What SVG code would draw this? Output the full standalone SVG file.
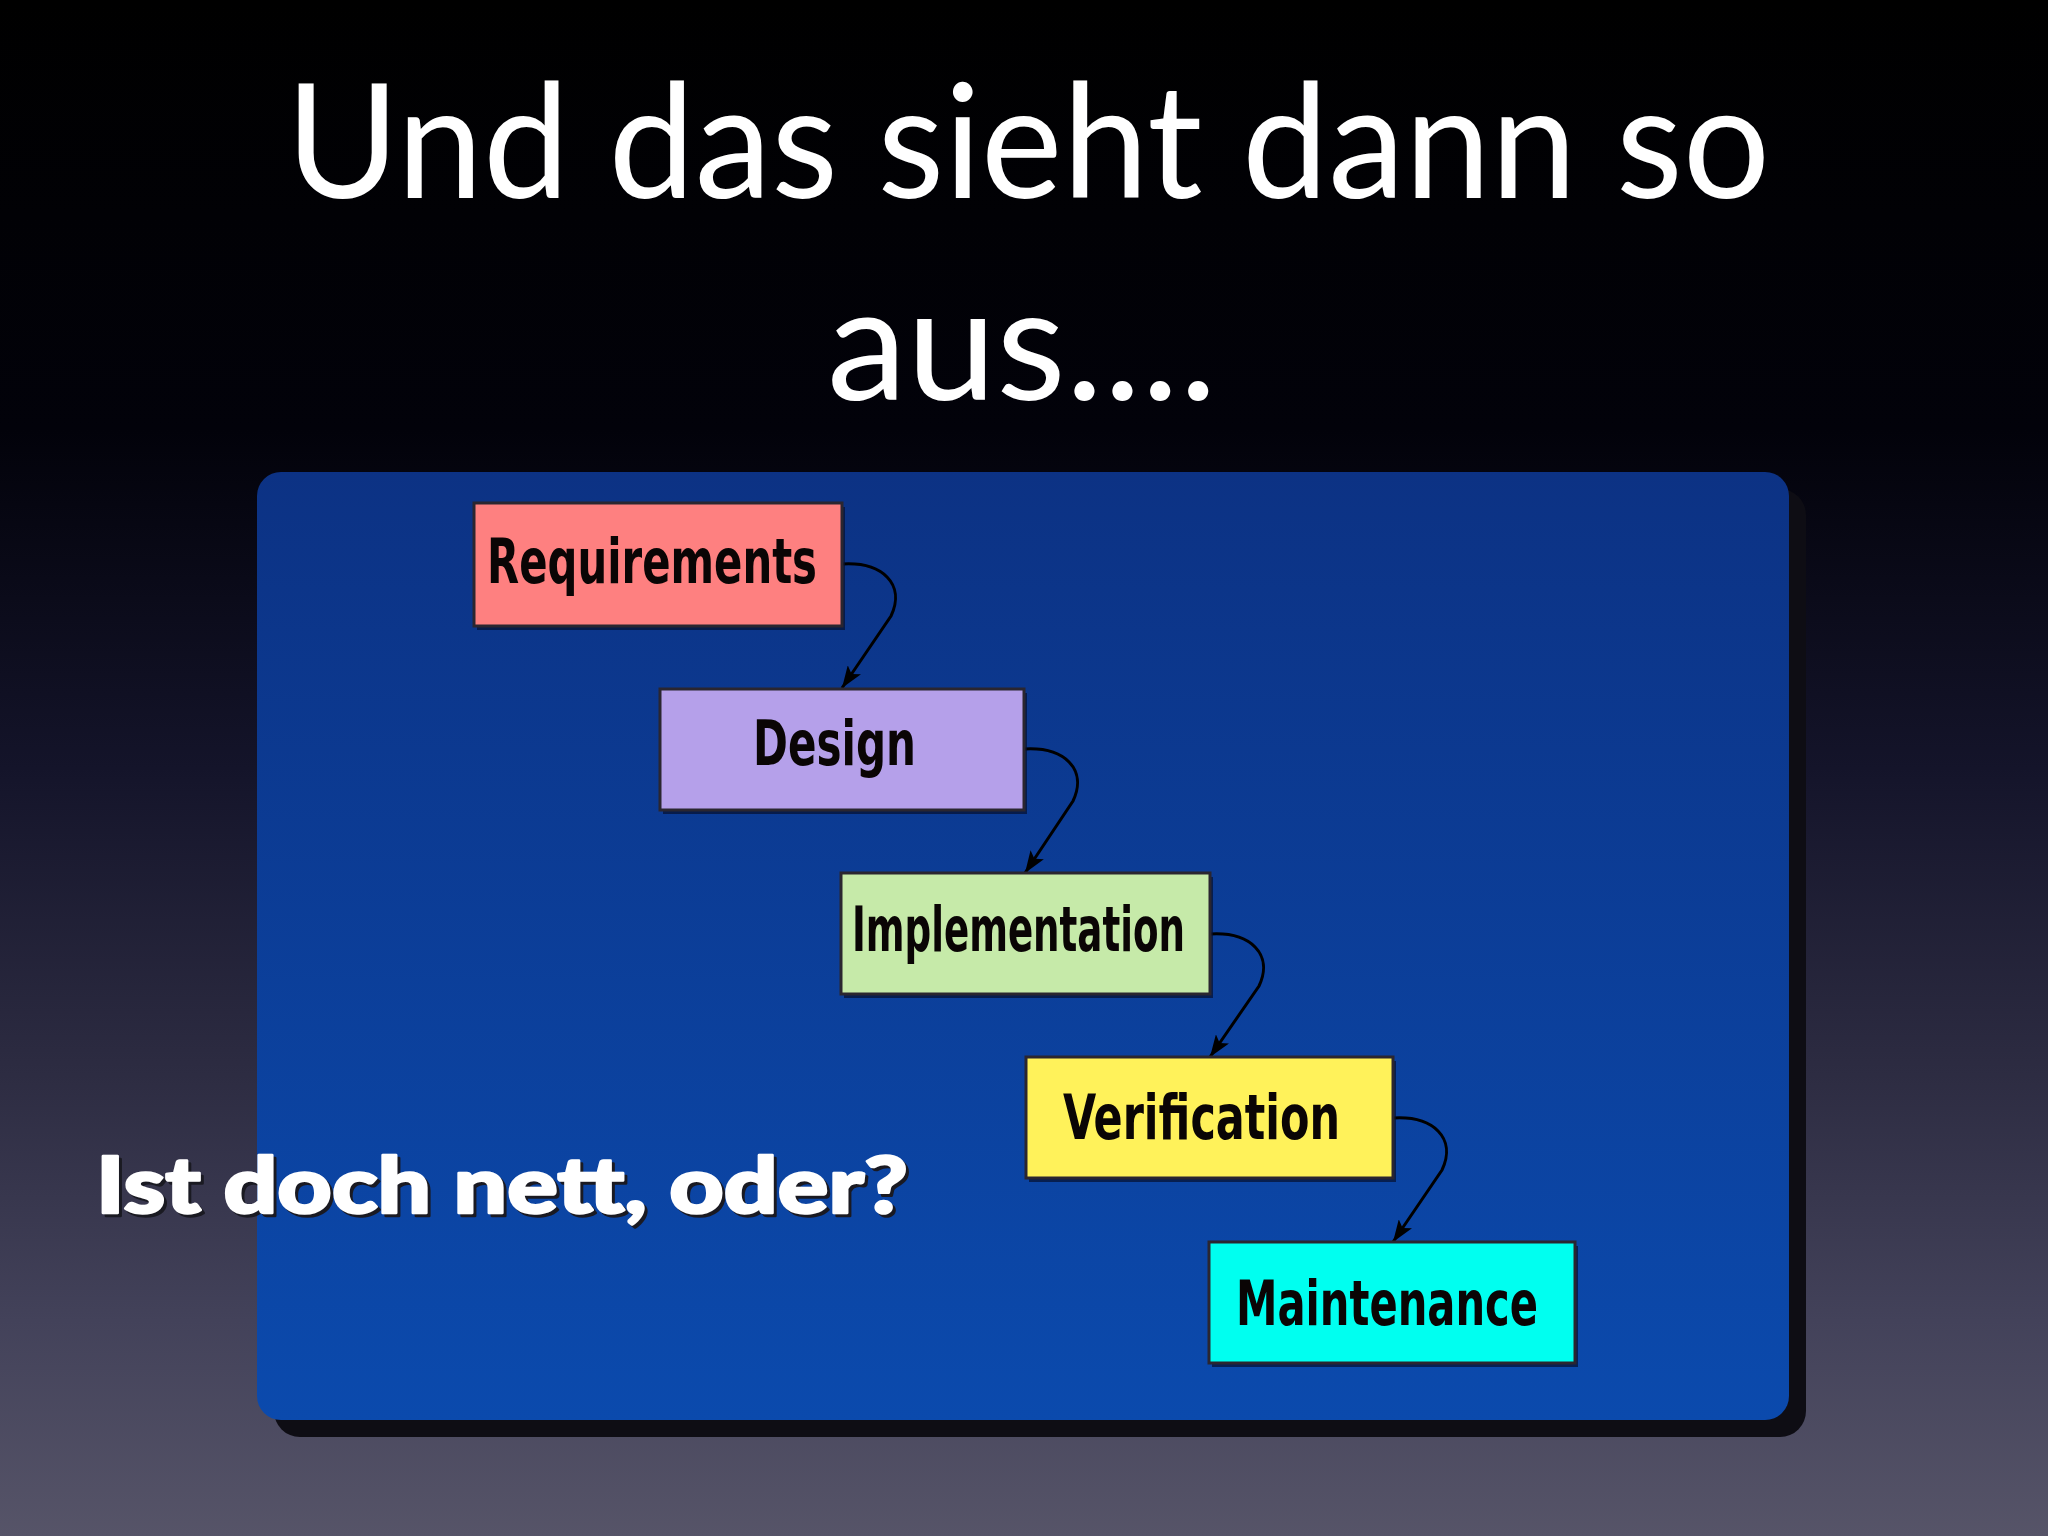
<svg xmlns="http://www.w3.org/2000/svg" width="2048" height="1536" viewBox="0 0 2048 1536">
  <defs>
    <linearGradient id="bg" x1="0" y1="0" x2="0" y2="1">
      <stop offset="0" stop-color="#000000"/>
      <stop offset="0.28" stop-color="#02020a"/>
      <stop offset="0.5" stop-color="#14142a"/>
      <stop offset="0.7" stop-color="#2d2c42"/>
      <stop offset="0.86" stop-color="#43425a"/>
      <stop offset="1" stop-color="#565468"/>
    </linearGradient>
    <linearGradient id="panel" x1="0" y1="0" x2="0" y2="1">
      <stop offset="0" stop-color="#0c3284"/>
      <stop offset="1" stop-color="#0b4aad"/>
    </linearGradient>
    <marker id="arrow" markerUnits="userSpaceOnUse" markerWidth="24" markerHeight="16" refX="22" refY="8" orient="auto">
      <path d="M0,0 L22,8 L0,16 L5,8 Z" fill="#000"/>
    </marker>
  </defs>
  <style>
    .title { font-family: "Lato", "Open Sans", sans-serif; font-size: 160px; fill: #ffffff; }
    .sub { font-family: "Lato", "Open Sans", sans-serif; font-weight: 900; font-size: 78px; stroke-width: 2.5; stroke-linejoin: round; }
    .box { stroke: #2a2630; stroke-width: 3; }
    .shadow { fill: #06102e; opacity: 0.7; }
    .label { font-family: "DejaVu Sans Condensed", "DejaVu Sans", sans-serif; font-weight: bold; font-size: 62px; fill: #0a0505; }
    .conn { fill: none; stroke: #000; stroke-width: 3; }
  </style>

  <rect x="0" y="0" width="2048" height="1536" fill="url(#bg)"/>

  <text class="title" x="286" y="198" textLength="1484" lengthAdjust="spacingAndGlyphs">Und das sieht dann so</text>
  <text class="title" x="827" y="400" textLength="390" lengthAdjust="spacingAndGlyphs">aus....</text>

  <g id="panel-frame">
    <rect x="274" y="489" width="1532" height="948" rx="26" fill="#0e0d14"/>
    <rect x="257" y="472" width="1532" height="948" rx="24" fill="url(#panel)"/>
  </g>

  <g id="connectors">
    <path class="conn" marker-end="url(#arrow)" d="M843,564 C882,562 906,584 891,616 L842,688"/>
    <path class="conn" marker-end="url(#arrow)" d="M1025,749 C1064,747 1088,769 1073,801 L1025,873"/>
    <path class="conn" marker-end="url(#arrow)" d="M1211,934 C1250,932 1274,954 1259,986 L1210,1057"/>
    <path class="conn" marker-end="url(#arrow)" d="M1394,1118 C1433,1116 1457,1138 1442,1170 L1393,1242"/>
  </g>

  <g id="node-requirements">
    <rect class="shadow" x="477" y="507" width="368" height="123"/>
    <rect class="box" x="474" y="503" width="368" height="123" fill="#fe8080"/>
    <text class="label" x="487" y="583" textLength="330" lengthAdjust="spacingAndGlyphs">Requirements</text>
  </g>

  <g id="node-design">
    <rect class="shadow" x="663" y="693" width="364" height="121"/>
    <rect class="box" x="660" y="689" width="364" height="121" fill="#b5a0ea"/>
    <text class="label" x="753" y="765" textLength="163" lengthAdjust="spacingAndGlyphs">Design</text>
  </g>

  <g id="node-implementation">
    <rect class="shadow" x="844" y="877" width="369" height="121"/>
    <rect class="box" x="841" y="873" width="369" height="121" fill="#c6eaa9"/>
    <text class="label" x="852" y="951" textLength="333" lengthAdjust="spacingAndGlyphs">Implementation</text>
  </g>

  <g id="node-verification">
    <rect class="shadow" x="1029" y="1061" width="367" height="121"/>
    <rect class="box" x="1026" y="1057" width="367" height="121" fill="#fff25a"/>
    <text class="label" x="1063" y="1139" textLength="277" lengthAdjust="spacingAndGlyphs">Verification</text>
  </g>

  <g id="node-maintenance">
    <rect class="shadow" x="1212" y="1246" width="366" height="121"/>
    <rect class="box" x="1209" y="1242" width="366" height="121" fill="#00fff0"/>
    <text class="label" x="1236" y="1325" textLength="302" lengthAdjust="spacingAndGlyphs">Maintenance</text>
  </g>

  <g id="subtitle">
    <text class="sub" x="99" y="1216" fill="#1a1a22" stroke="#1a1a22" textLength="812" lengthAdjust="spacingAndGlyphs">Ist doch nett, oder?</text>
    <text class="sub" x="96" y="1213" fill="#ffffff" stroke="#ffffff" textLength="812" lengthAdjust="spacingAndGlyphs">Ist doch nett, oder?</text>
  </g>
</svg>
